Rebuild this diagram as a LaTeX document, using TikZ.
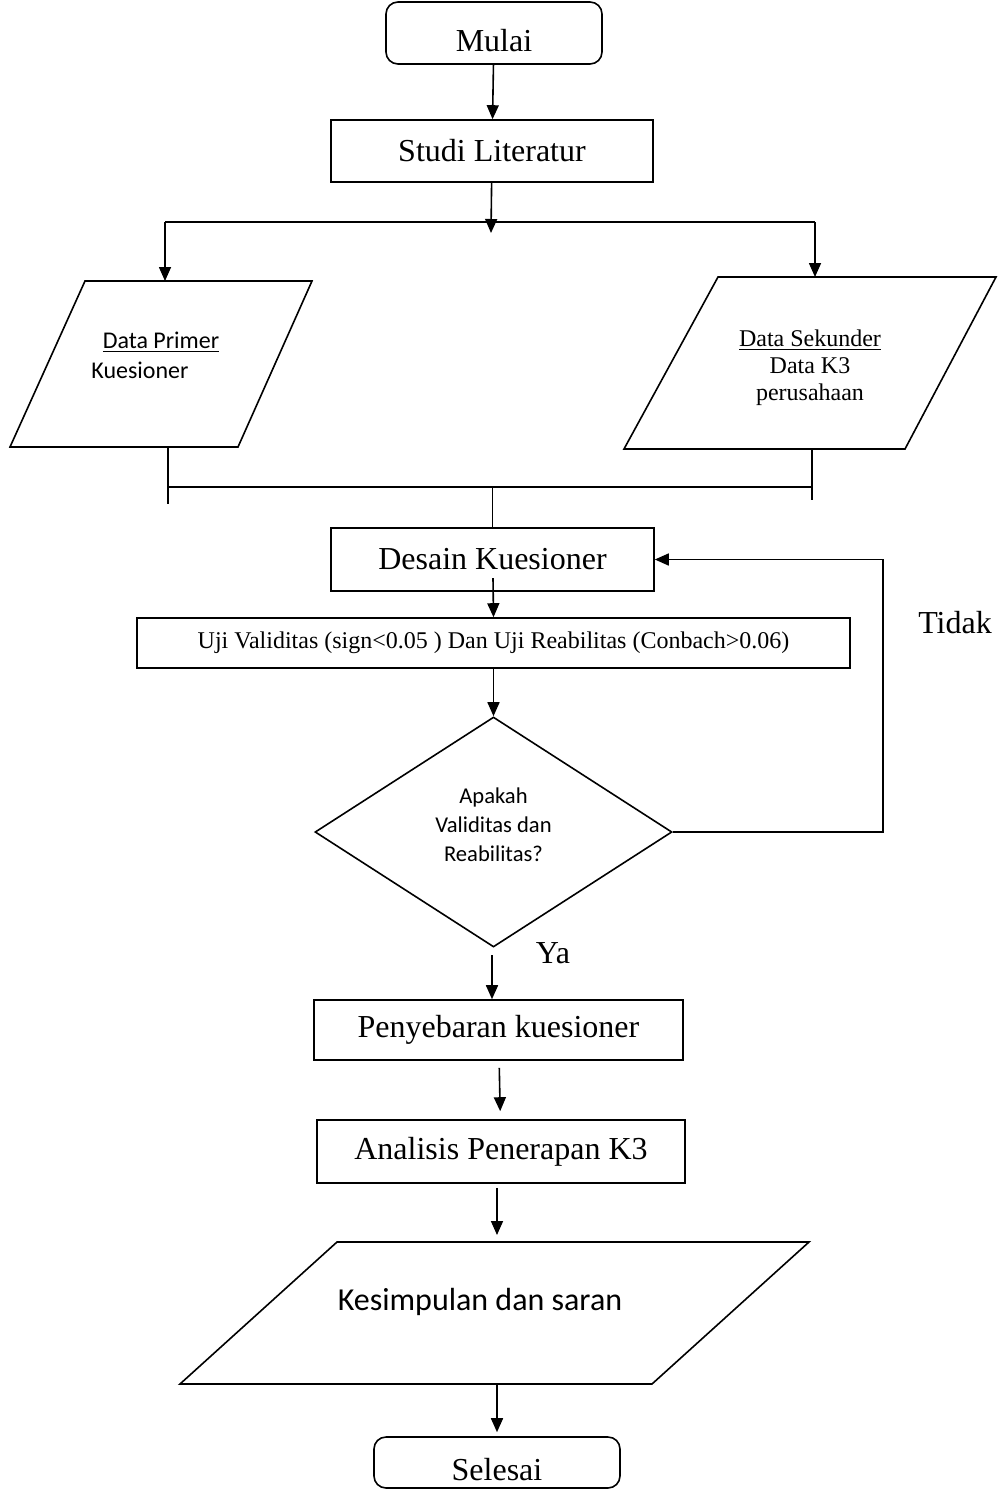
\documentclass[tikz,border=0pt]{standalone}
\usepackage{fontspec}
\setmainfont{Liberation Serif}
\newfontfamily\calibri{Carlito}
\usetikzlibrary{arrows.meta,shapes.geometric}
\tikzset{
  box/.style={draw,line width=.8pt,inner sep=0pt,font=\fontsize{16}{19}\selectfont},
  term/.style={box,rounded corners=6pt,text height=18pt,text depth=0pt},
  decision/.style={draw,diamond,line width=.8pt,inner sep=0pt,minimum width=178.5pt,minimum height=115pt},
  arr/.style={-{Triangle[length=7pt,width=6pt]},line width=.8pt},
  ln/.style={line width=.8pt}
}
\begin{document}
\begin{tikzpicture}[x=.5pt,y=-.5pt]
  \useasboundingbox (0,0) rectangle (998,1490);
  \node[term,minimum width=108pt,minimum height=31pt] (mulai) at (494,33) {Mulai};
  \node[box,minimum width=161pt,minimum height=31pt] (studi) at (492,151) {Studi Literatur};
  % cabang ke data primer dan sekunder
  \coordinate (split) at (491,233);
  \coordinate (brl) at (165,222);
  \coordinate (brr) at (815,222);
  \coordinate (primtop) at (165,281);
  \coordinate (sektop) at (815,277);
  \draw[arr] (mulai) -- (studi);
  \draw[arr] (studi) -- (split);
  \draw[ln] (brl) -- (brr);
  \draw[arr] (brl) -- (primtop);
  \draw[arr] (brr) -- (sektop);
  \draw[ln] (85,281) -- (312,281) -- (238,447) -- (10,447) -- cycle;
  \draw[ln] (718,277) -- (996,277) -- (905,449) -- (624,449) -- cycle;
  \node[font=\calibri\fontsize{12}{14}\selectfont] (primer) at (161,342) {\underline{Data Primer}};
  \node[font=\calibri\fontsize{12}{14}\selectfont] (kues) at (140,370) {Kuesioner};
  \node[align=center,font=\fontsize{12}{13.5}\selectfont] (sekunder) at (810,368) {\underline{Data Sekunder}\\Data K3\\perusahaan};
  % gabung
  \coordinate (primbot) at (168,447);
  \coordinate (sekbot) at (812,449);
  \coordinate (mgl) at (168,487);
  \coordinate (mgr) at (812,487);
  \coordinate (mgc) at (492.5,487);
  \draw[ln] (primbot) -- (168,504);
  \draw[ln] (sekbot) -- (812,500);
  \draw[ln] (mgl) -- (mgr);
  \node[box,minimum width=161.5pt,minimum height=31.5pt] (desain) at (492.5,559.5) {Desain Kuesioner};
  \draw[ln] (mgc) -- (desain.north);
  \node[box,minimum width=356.5pt,minimum height=25pt,font=\fontsize{12}{14}\selectfont] (uji) at (493.5,643) {Uji Validitas (sign<0.05 ) Dan Uji Reabilitas (Conbach>0.06)};
  \coordinate (desin) at (493,578);
  \draw[arr] (desin) -- (uji.north);
  \node[decision] (cek) at (493.5,832) {};
  \node[align=center,font=\calibri\fontsize{11.3}{14.5}\selectfont] (cektxt) at (493.5,825) {Apakah\\Validitas dan\\Reabilitas?};
  \draw[arr] (uji) -- (cek);
  \draw[arr] (cek.east) -- ++(210,0) |- (desain.east);
  \node[font=\fontsize{16}{19}\selectfont] (tidak) at (955,623) {Tidak};
  \node[font=\fontsize{16}{19}\selectfont] (ya) at (553,953) {Ya};
  \node[box,minimum width=184.5pt,minimum height=30pt] (sebar) at (498.5,1030) {Penyebaran kuesioner};
  \coordinate (yastart) at (492,955);
  \draw[arr] (yastart) -- (sebar.north -| yastart);
  \node[box,minimum width=184pt,minimum height=31.5pt] (analisis) at (501,1151.5) {Analisis Penerapan K3};
  \draw[arr,shorten <=3.5pt,shorten >=4pt] (sebar) -- (analisis);
  % kesimpulan
  \draw[ln] (337,1242) -- (809,1242) -- (652,1384) -- (180,1384) -- cycle;
  \node[font=\calibri\fontsize{16}{19}\selectfont] (kesimpulan) at (480,1302) {Kesimpulan dan saran};
  \coordinate (kestop) at (497,1242);
  \coordinate (kesbot) at (497,1384);
  \draw[arr,shorten <=2pt,shorten >=3.5pt] (analisis.south -| kestop) -- (kestop);
  \node[term,minimum width=123pt,minimum height=25.5pt] (selesai) at (497,1462.5) {Selesai};
  \draw[arr,shorten >=2pt] (kesbot) -- (selesai.north -| kesbot);
\end{tikzpicture}
\end{document}
